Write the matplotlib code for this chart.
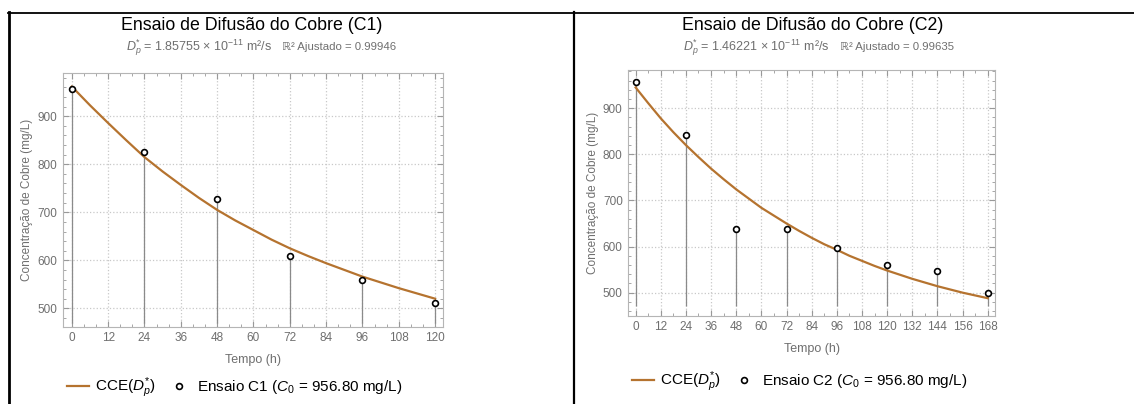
import matplotlib
matplotlib.use('Agg')
import matplotlib.pyplot as plt
from matplotlib.lines import Line2D
from matplotlib.ticker import MultipleLocator

plt.rcParams['font.family'] = ['Liberation Sans', 'DejaVu Sans']
plt.rcParams['mathtext.fontset'] = 'custom'
plt.rcParams['mathtext.rm'] = 'Liberation Sans'
plt.rcParams['mathtext.it'] = 'Liberation Sans:italic'

# ensaio C1
t_c1 = [0, 24, 48, 72, 96, 120]
conc_c1 = [956.8, 826, 727, 610, 558, 512]
t_fit_c1 = [0, 6, 12, 18, 24, 30, 36, 42, 48, 54, 60, 66, 72, 78, 84, 90, 96, 102, 108, 114, 120]
fit_c1 = [962, 923, 886, 850, 815, 785, 757, 730, 705, 683, 663, 643, 625, 609, 594, 580, 566, 554, 542, 531, 520]

# ensaio C2
t_c2 = [0, 24, 48, 72, 96, 120, 144, 168]
conc_c2 = [956.8, 842, 639, 637, 597, 561, 546, 500]
t_fit_c2 = [0, 6, 12, 18, 24, 30, 36, 42, 48, 54, 60, 66, 72, 78, 84, 90, 96, 102, 108,
            114, 120, 126, 132, 138, 144, 150, 156, 162, 168]
fit_c2 = [945, 911, 878, 848, 820, 794, 769, 746, 724, 704, 684, 667, 650, 634, 619, 605,
          593, 580, 569, 558, 548, 539, 530, 522, 514, 507, 500, 494, 488]

W, H = 1134, 404
FIT = '#b5732f'
GRAY = '#6f6f6f'

fig = plt.figure(figsize=(W / 100, H / 100), dpi=100)


def px(x0, y_top, x1, y_bot):
    return [x0 / W, 1 - y_bot / H, (x1 - x0) / W, (y_bot - y_top) / H]


def panel(rect, t, conc, tf, cf, xmax, xlim, ylim, name, dp, r2, cx, split_x, leg_y, leg_x):
    ax = fig.add_axes(px(*rect))
    ax.set_xlim(*xlim)
    ax.set_ylim(*ylim)
    ax.xaxis.set_major_locator(MultipleLocator(12))
    ax.xaxis.set_minor_locator(MultipleLocator(6 if xmax > 120 else 4))
    ax.yaxis.set_major_locator(MultipleLocator(100))
    ax.yaxis.set_minor_locator(MultipleLocator(20))
    ax.grid(True, which='major', color='#c8c8c8', linestyle=':', linewidth=0.9)
    ax.set_axisbelow(True)
    for s in ax.spines.values():
        s.set_color('#b5b5b5')
        s.set_linewidth(0.8)
    ax.tick_params(which='both', direction='in', top=True, right=True, colors='#999999',
                   labelcolor=GRAY, labelsize=8.5)
    ax.tick_params(which='major', length=4, pad=4)
    ax.tick_params(which='minor', length=2)

    ax.vlines(t, 470, conc, color='#8a8a8a', linewidth=0.9, zorder=2)
    ax.plot(tf, cf, color=FIT, linewidth=1.6, zorder=3, label=r'CCE($D_p^{*}$)')
    ax.plot(t, conc, 'o', markersize=4.2, markerfacecolor='white', markeredgecolor='black',
            markeredgewidth=1.2, zorder=4, linestyle='none',
            label=r'Ensaio %s ($C_0$ = 956.80 mg/L)' % name)

    ax.set_xlabel('Tempo (h)', color=GRAY, fontsize=9, labelpad=7)
    ax.set_ylabel('Concentração de Cobre (mg/L)', color=GRAY, fontsize=8.5, labelpad=3)

    fig.text(cx / W, 1 - 25 / H, 'Ensaio de Difusão do Cobre (%s)' % name,
             ha='center', va='center', fontsize=12.8, color='black')
    fig.text(split_x / W, 1 - 48 / H,
             r'$D_p^{*}$ = %s × 10$^{-11}$ m²/s' % dp,
             ha='right', va='center', fontsize=9, color=GRAY)
    fig.text((split_x + 10) / W, 1 - 47 / H, 'ℝ² Ajustado = %s' % r2,
             ha='left', va='center', fontsize=8.2, color=GRAY)

    ax.legend(loc='center left', bbox_to_anchor=(leg_x / W, 1 - leg_y / H),
              bbox_transform=fig.transFigure, ncol=2, frameon=False, fontsize=11,
              handlelength=1.45, handletextpad=0.4, columnspacing=0.8,
              borderaxespad=0, borderpad=0)
    return ax


panel((62.7, 72.7, 442.7, 326.7), t_c1, conc_c1, t_fit_c1, fit_c1, 120,
      (-3, 122.5), (461.7, 990.8), 'C1', '1.85755', '0.99946', 252, 272, 388, 67)
panel((628.3, 70, 995, 315.7), t_c2, conc_c2, t_fit_c2, fit_c2, 168,
      (-3.5, 171.5), (450, 982.9), 'C2', '1.46221', '0.99635', 813, 830, 382, 632)

# table borders around the two pictures
fig.add_artist(Line2D([8 / W, 1], [1 - 12.5 / H] * 2, color='black', linewidth=1.3))
fig.add_artist(Line2D([8.5 / W] * 2, [0, 1 - 12 / H], color='black', linewidth=2))
fig.add_artist(Line2D([574 / W] * 2, [0, 1 - 12 / H], color='black', linewidth=1.6))

fig.savefig('out.png', dpi=100)
